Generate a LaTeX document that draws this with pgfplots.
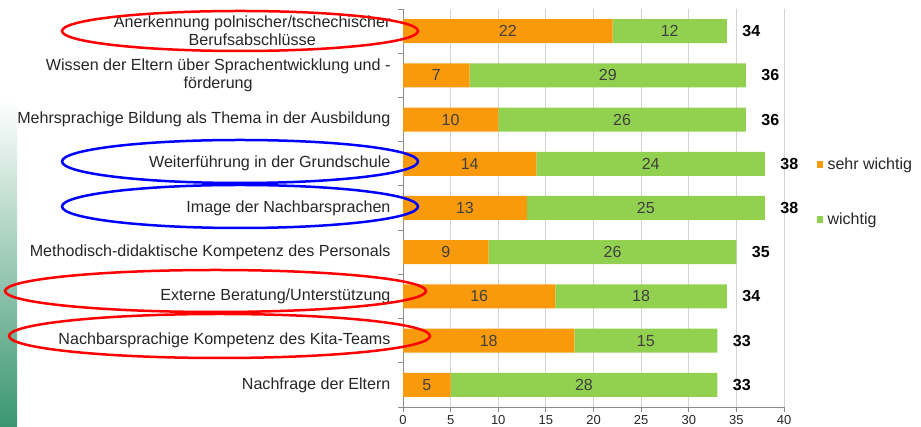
\documentclass[border=0pt]{standalone}
\usepackage{pgfplots}
\pgfplotsset{compat=1.18}
\usepackage{pgfplotstable}
\usepackage{fontspec}
\setmainfont{Liberation Sans}
\definecolor{sw}{HTML}{F99A0C}
\definecolor{wi}{HTML}{92D050}
\definecolor{gridc}{HTML}{D4D4D4}
\definecolor{axc}{HTML}{8C8C8C}
\definecolor{stripg}{HTML}{3A9670}
\definecolor{lbl}{HTML}{262626}

\pgfplotstableread{
idx sw w tot
9 22 12 34
8 7 29 36
7 10 26 36
6 14 24 38
5 13 25 38
4 9 26 35
3 16 18 34
2 18 15 33
1 5 28 33
}\data

\begin{document}
\begin{tikzpicture}[x=1pt,y=1pt]
\useasboundingbox (0,0) rectangle (921,427);
\shade[top color=white, bottom color=stripg] (0,0) rectangle (17,327);
\pgfplotsset{myax/.style={scale only axis, width=381pt, height=398pt,
  at={(403pt,20pt)}, anchor=south west, xmin=0, xmax=40, ymin=0.5, ymax=9.5,
  /pgf/number format/assume math mode=true}}
\begin{axis}[myax, xbar stacked, bar width=24pt,
  axis x line*=bottom, axis y line*=left,
  axis line style={axc, line width=0.8pt, -},
  xtick={0,5,...,40}, xmajorgrids, grid style={gridc, line width=0.8pt},
  tick align=outside, major tick length=5pt, tick style={axc, line width=0.8pt},
  xticklabel style={font=\fontsize{13}{15}\selectfont, text=lbl},
  ytick={0.5,1.5,2.5,3.5,4.5,5.5,6.5,7.5,8.5,9.5}, yticklabels={},
  extra y ticks={9,8,7,6,5,4,3,2,1},
  extra y tick labels={{Anerkennung polnischer/tschechischer\\Berufsabschlüsse},
    {Wissen der Eltern über Sprachentwicklung und -\\förderung},
    {Mehrsprachige Bildung als Thema in der Ausbildung},
    {Weiterführung in der Grundschule},
    {Image der Nachbarsprachen},
    {Methodisch-didaktische Kompetenz des Personals},
    {Externe Beratung/Unterstützung},
    {Nachbarsprachige Kompetenz des Kita-Teams},
    {Nachfrage der Eltern}},
  extra y tick style={major tick length=0pt},
  yticklabel style={font=\fontsize{16.1}{18}\selectfont, text=lbl, align=center, xshift=-9pt},
  legend style={draw=none, fill=none, at={(1.085,0.54)}, anchor=west,
    font=\fontsize{16}{18}\selectfont, text=lbl, row sep=38pt, inner sep=0pt},
  legend cell align=left,
  legend image code/.code={\fill[#1,draw=none] (0pt,-3pt) rectangle (6.5pt,3.5pt); \path (0pt,0pt) -- (9pt,0pt);},
]
\addplot[fill=sw, draw=none] table[x=sw, y=idx] {\data};
\addplot[fill=wi, draw=none] table[x=w, y=idx] {\data};
\legend{sehr wichtig, wichtig}
\end{axis}
\begin{axis}[myax, hide axis, clip=false]
\addplot[only marks, mark=*, mark size=0pt, mark options={draw=none, fill=none},
  nodes near coords, point meta=explicit, nodes near coords align=center,
  every node near coord/.append style={font=\fontsize{16}{18}\selectfont, text=black!75}]
  table[x expr=\thisrow{sw}/2, y=idx, meta=sw] {\data};
\addplot[only marks, mark=*, mark size=0pt, mark options={draw=none, fill=none},
  nodes near coords, point meta=explicit, nodes near coords align=center,
  every node near coord/.append style={font=\fontsize{16}{18}\selectfont, text=black!75}]
  table[x expr=\thisrow{sw}+\thisrow{w}/2, y=idx, meta=w] {\data};
\addplot[only marks, mark=*, mark size=0pt, mark options={draw=none, fill=none},
  nodes near coords, point meta=explicit, nodes near coords align=west,
  every node near coord/.append style={font=\bfseries\fontsize{16}{18}\selectfont, text=black, xshift=12pt}]
  table[x=tot, y=idx, meta=tot] {\data};
\end{axis}
\draw[red, line width=2.5pt] (240,396) ellipse [x radius=178, y radius=20];
\draw[blue, line width=2.5pt] (240,265.5) ellipse [x radius=178, y radius=21.5];
\draw[blue, line width=2.5pt] (240,220.5) ellipse [x radius=178, y radius=21.5];
\draw[red, line width=2.5pt] (215.5,136) ellipse [x radius=210.5, y radius=21];
\draw[red, line width=2.5pt] (219.5,91) ellipse [x radius=210.5, y radius=22];
\end{tikzpicture}
\end{document}
